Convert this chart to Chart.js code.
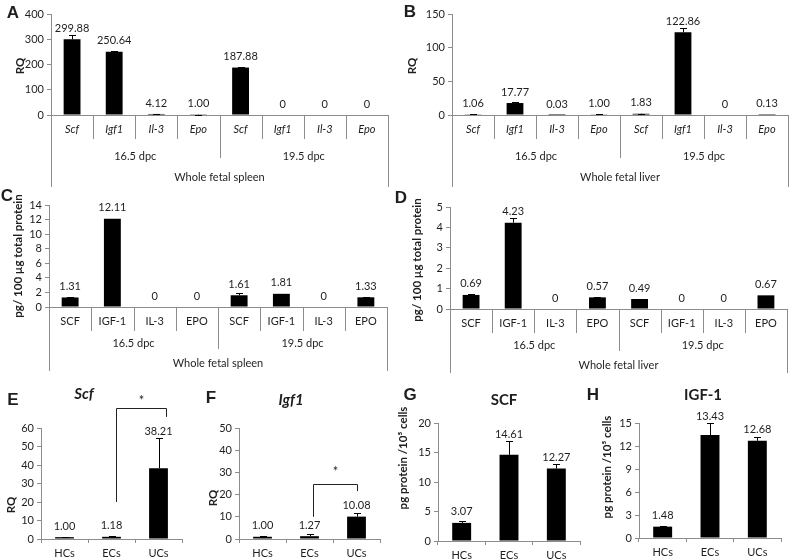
<!DOCTYPE html>
<html><head><meta charset="utf-8">
<script src="https://cdn.jsdelivr.net/npm/chart.js@4.4.1/dist/chart.umd.min.js"></script>
<style>
html,body{margin:0;padding:0;background:#fff;}
#wrap{position:relative;width:792px;height:560px;overflow:hidden;background:#fff;}
canvas{position:absolute;}
</style></head><body><div id="wrap"></div>
<script>
// ---------- data ----------
const geneCats = ['Scf', 'Igf1', 'Il-3', 'Epo', 'Scf', 'Igf1', 'Il-3', 'Epo'];
const proteinCats = ['SCF', 'IGF-1', 'IL-3', 'EPO', 'SCF', 'IGF-1', 'IL-3', 'EPO'];
const stageGroups = ['16.5 dpc', '19.5 dpc'];
const cellCats = ['HCs', 'ECs', 'UCs'];

const spleenRQ = [299.88, 250.64, 4.12, 1.00, 187.88, 0, 0, 0];
const spleenRQErr = [18, 3, 0.5, 0.2, 4, 0, 0, 0];
const liverRQ = [1.06, 17.77, 0.03, 1.00, 1.83, 122.86, 0, 0.13];
const liverRQErr = [0.3, 1, 0, 0.1, 0.3, 6, 0, 0];
const spleenProtein = [1.31, 12.11, 0, 0, 1.61, 1.81, 0, 1.33];
const spleenProteinErr = [0.1, 0, 0, 0, 0.3, 0, 0, 0.08];
const liverProtein = [0.69, 4.23, 0, 0.57, 0.49, 0, 0, 0.67];
const liverProteinErr = [0.03, 0.25, 0, 0.02, 0, 0, 0, 0];

const scfRQ = [1.00, 1.18, 38.21];
const scfRQErr = [0.3, 0.6, 16.5];
const igf1RQ = [1.00, 1.27, 10.08];
const igf1RQErr = [0.3, 1.0, 1.8];
const scfProtein = [3.07, 14.61, 12.27];
const scfProteinErr = [0.25, 2.4, 0.7];
const igf1Protein = [1.48, 13.43, 12.68];
const igf1ProteinErr = [0.12, 1.6, 0.5];

const ticksA = [0, 100, 200, 300, 400];
const ticksB = [0, 50, 100, 150];
const ticksC = [0, 2, 4, 6, 8, 10, 12, 14];
const ticksD = [0, 1, 2, 3, 4, 5];
const ticksE = [0, 10, 20, 30, 40, 50, 60];
const ticksF = [0, 10, 20, 30, 40, 50];
const ticksG = [0, 5, 10, 15, 20];
const ticksH = [0, 3, 6, 9, 12, 15];

// ---------- drawing ----------
const FONT = 'Lato, "Open Sans", sans-serif';
const FS = 11;
const AXIS = '#8c8c8c';
const TXT = '#1e1e1e';
function fmt(v) { return v === 0 ? '0' : v.toFixed(2); }

function makePanel(p) {
  const c = document.createElement('canvas');
  c.width = p.box.w; c.height = p.box.h;
  c.style.left = p.box.x + 'px'; c.style.top = p.box.y + 'px';
  document.getElementById('wrap').appendChild(c);
  const ox = p.box.x, oy = p.box.y;
  const padTop = p.area.T - oy, padRight = ox + p.box.w - p.area.R;
  const yW = p.area.L - ox, xH = oy + p.box.h - p.area.B;
  const hier = !!p.groups;
  const ticks = p.ticks;

  const text = (ctx, s, x, y, font, rot) => {
    ctx.save();
    ctx.translate(x - ox, y - oy);
    if (rot) ctx.rotate(rot);
    ctx.font = font; ctx.fillStyle = TXT;
    ctx.textAlign = 'center'; ctx.textBaseline = 'middle';
    ctx.fillText(s, 0, 0);
    ctx.restore();
  };

  const plugin = {
    id: 'deco',
    afterDraw(chart) {
      const ctx = chart.ctx;
      const xs = chart.scales.x, ys = chart.scales.y;
      const meta = chart.getDatasetMeta(0);
      // error bars + value labels
      ctx.save();
      ctx.strokeStyle = '#000'; ctx.lineWidth = 1;
      p.values.forEach((v, i) => {
        const el = meta.data[i];
        const x = Math.round(el.x) + 0.5;
        const top = ys.getPixelForValue(v);
        const e = p.errors[i] || 0;
        const et = ys.getPixelForValue(v + e);
        if (e > 0) {
          ctx.beginPath();
          ctx.moveTo(x, top); ctx.lineTo(x, Math.round(et) + 0.5);
          ctx.moveTo(x - 3.5, Math.round(et) + 0.5); ctx.lineTo(x + 3.5, Math.round(et) + 0.5);
          ctx.stroke();
        }
        const ly = Math.min(top - 11, et - 6);
        ctx.font = FS + 'px ' + FONT; ctx.fillStyle = TXT;
        ctx.textAlign = 'center'; ctx.textBaseline = 'middle';
        ctx.fillText(fmt(v), el.x, ly);
      });
      ctx.restore();
      // hierarchical category axis
      if (hier) {
        const n = p.labels.length;
        const L = xs.left, R = xs.right, B = ys.bottom;
        const w = (R - L) / n;
        const o = p.offsets; // [lab1, div1, lab2, div2, lab3, outer]
        ctx.save();
        ctx.strokeStyle = AXIS; ctx.lineWidth = 1;
        for (let i = 0; i <= n; i++) {
          const x = Math.round(L + i * w) + 0.5;
          let len = o[1];
          if (i === 0 || i === n) len = o[5];
          else if (i === n / 2) len = o[3];
          ctx.beginPath(); ctx.moveTo(x, B); ctx.lineTo(x, B + len); ctx.stroke();
        }
        ctx.restore();
        ctx.save();
        ctx.fillStyle = TXT; ctx.textAlign = 'center'; ctx.textBaseline = 'middle';
        ctx.font = (p.italicCats ? 'italic ' : '') + FS + 'px ' + FONT;
        p.labels.forEach((s, i) => ctx.fillText(s, xs.getPixelForValue(i), B + o[0]));
        ctx.font = FS + 'px ' + FONT;
        p.groups.forEach((g, j) => ctx.fillText(g, L + (j + 0.5) * (R - L) / p.groups.length, B + o[2]));
        ctx.fillText(p.outer, (L + R) / 2, B + o[4]);
        ctx.restore();
      }
      // significance bracket
      if (p.bracket) {
        const b = p.bracket;
        const xl = Math.round(xs.getPixelForValue(b.from)) + 0.5;
        const xr = Math.round(xs.getPixelForValue(b.to)) + 0.5;
        const yt = Math.round(ys.getPixelForValue(b.top)) + 0.5;
        ctx.save();
        ctx.strokeStyle = '#222'; ctx.lineWidth = 1;
        ctx.beginPath();
        ctx.moveTo(xl, ys.getPixelForValue(b.leftEnd)); ctx.lineTo(xl, yt);
        ctx.lineTo(xr, yt); ctx.lineTo(xr, ys.getPixelForValue(b.rightEnd));
        ctx.stroke();
        ctx.font = '13px ' + FONT; ctx.fillStyle = TXT;
        ctx.textAlign = 'center'; ctx.textBaseline = 'middle';
        ctx.fillText('*', (xl + xr) / 2, ys.getPixelForValue(b.star) + 2);
        ctx.restore();
      }
      // panel letter, title, y title
      text(ctx, p.letter[0], p.letter[1], p.letter[2], 'bold 17px "Liberation Sans", Arial, sans-serif');
      if (p.title) text(ctx, p.title[0], p.title[1], p.title[2], (p.title[3] ? 'italic ' : '') + 'bold 15px ' + FONT);
      text(ctx, p.yTitle[0], p.yTitle[1], p.yTitle[2], 'bold 11.5px ' + FONT, -Math.PI / 2);
    }
  };

  new Chart(c, {
    type: 'bar',
    data: { labels: p.labels, datasets: [{ data: p.values, backgroundColor: '#000', borderWidth: 0, barPercentage: 0.4, categoryPercentage: 1 }] },
    options: {
      responsive: false, animation: false, devicePixelRatio: 1,
      layout: { padding: { top: padTop, right: padRight, left: 0, bottom: 0 } },
      plugins: { legend: { display: false }, tooltip: { enabled: false } },
      scales: {
        x: {
          type: 'category', offset: true,
          grid: { display: !hier, drawOnChartArea: false, drawTicks: true, tickLength: 4, color: AXIS, offset: true },
          border: { display: true, color: AXIS, width: 1 },
          ticks: { display: !hier, font: { family: FONT, size: FS }, color: TXT, padding: 4, maxRotation: 0, autoSkip: false },
          afterFit(s) { s.height = xH; }
        },
        y: {
          min: ticks[0], max: ticks[ticks.length - 1],
          ticks: { stepSize: ticks[1] - ticks[0], autoSkip: false, font: { family: FONT, size: FS }, color: TXT, padding: 3 },
          grid: { display: true, drawOnChartArea: false, drawTicks: true, tickLength: 4, color: AXIS },
          border: { display: true, color: AXIS, width: 1 },
          afterFit(s) { s.width = yW; }
        }
      }
    },
    plugins: [plugin]
  });
}

const offAB = [14, 24, 41, 43, 62, 72];
const offCD = [14, 24, 36, 42, 56, 64];

makePanel({ box: { x: 0, y: 0, w: 396, h: 190 }, area: { L: 51, T: 14, R: 388, B: 115 },
  labels: geneCats, italicCats: true, groups: stageGroups, outer: 'Whole fetal spleen', offsets: offAB,
  values: spleenRQ, errors: spleenRQErr, ticks: ticksA,
  letter: ['A', 13, 13], yTitle: ['RQ', 20, 66] });
makePanel({ box: { x: 398, y: 0, w: 394, h: 190 }, area: { L: 452, T: 14, R: 788, B: 115 },
  labels: geneCats, italicCats: true, groups: stageGroups, outer: 'Whole fetal liver', offsets: offAB,
  values: liverRQ, errors: liverRQErr, ticks: ticksB,
  letter: ['B', 410, 12], yTitle: ['RQ', 412, 66] });
makePanel({ box: { x: 0, y: 186, w: 392, h: 190 }, area: { L: 49, T: 205, R: 387, B: 307 },
  labels: proteinCats, groups: stageGroups, outer: 'Whole fetal spleen', offsets: offCD,
  values: spleenProtein, errors: spleenProteinErr, ticks: ticksC,
  letter: ['C', 7, 196], yTitle: ['pg/ 100 µg total protein', 18, 256] });
makePanel({ box: { x: 392, y: 186, w: 400, h: 190 }, area: { L: 450, T: 207, R: 787, B: 309 },
  labels: proteinCats, groups: stageGroups, outer: 'Whole fetal liver', offsets: offCD,
  values: liverProtein, errors: liverProteinErr, ticks: ticksD,
  letter: ['D', 401, 198], yTitle: ['pg/ 100 µg total protein', 417, 260] });
makePanel({ box: { x: 0, y: 378, w: 196, h: 182 }, area: { L: 41, T: 428, R: 182, B: 539 },
  labels: cellCats, values: scfRQ, errors: scfRQErr, ticks: ticksE,
  bracket: { from: 1.09, to: 2.15, leftEnd: 20, top: 71, rightEnd: 66, star: 76 },
  letter: ['E', 13, 400], title: ['Scf', 84, 394, true], yTitle: ['RQ', 11, 505] });
makePanel({ box: { x: 198, y: 378, w: 196, h: 182 }, area: { L: 239, T: 428, R: 380, B: 539 },
  labels: cellCats, values: igf1RQ, errors: igf1RQErr, ticks: ticksF,
  bracket: { from: 1.07, to: 2.0, leftEnd: 10, top: 24.6, rightEnd: 21.6, star: 31 },
  letter: ['F', 211, 398], title: ['Igf1', 291, 400, true], yTitle: ['RQ', 213, 498] });
makePanel({ box: { x: 396, y: 378, w: 190, h: 182 }, area: { L: 438, T: 423, R: 580, B: 541 },
  labels: cellCats, values: scfProtein, errors: scfProteinErr, ticks: ticksG,
  letter: ['G', 410, 395], title: ['SCF', 504, 400, false], yTitle: ['pg protein /10\u2075 cells', 403, 458] });
makePanel({ box: { x: 584, y: 378, w: 208, h: 182 }, area: { L: 639, T: 423, R: 781, B: 538 },
  labels: cellCats, values: igf1Protein, errors: igf1ProteinErr, ticks: ticksH,
  letter: ['H', 593, 395], title: ['IGF-1', 703, 395, false], yTitle: ['pg protein /10\u2075 cells', 607, 467] });
</script>
</body></html>
